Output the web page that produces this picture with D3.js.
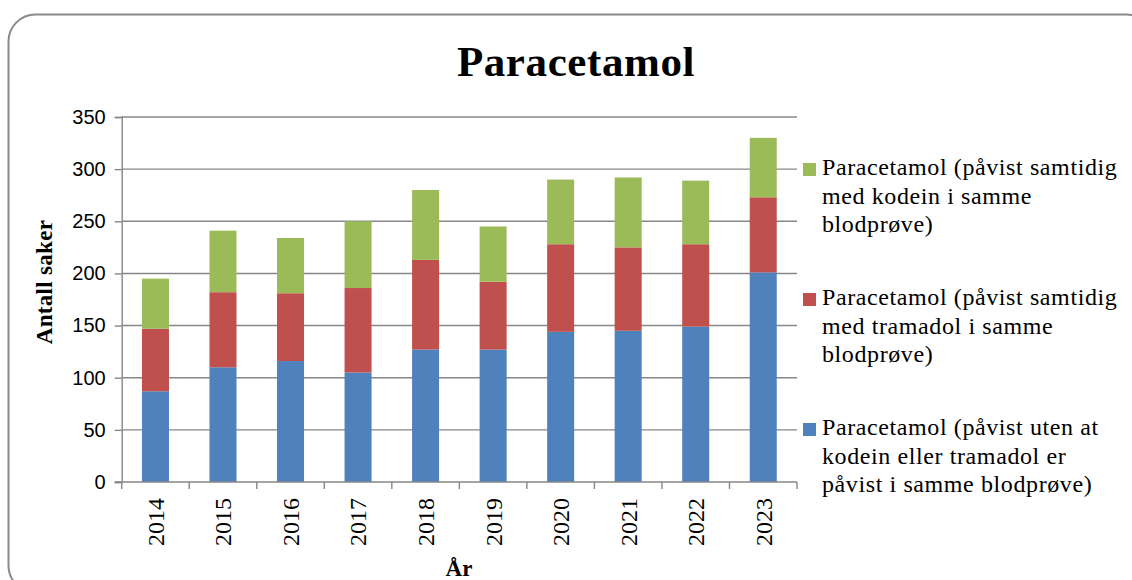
<!DOCTYPE html>
<html>
<head>
<meta charset="utf-8">
<script src="https://cdn.jsdelivr.net/npm/d3@7"></script>
<style>
  html, body { margin: 0; padding: 0; background: #fff; }
  svg { display: block; }
</style>
</head>
<body>
<svg width="1132" height="580"></svg>
<script>
(function(){
	'use strict';

	const years = ['2014', '2015', '2016', '2017', '2018', '2019', '2020', '2021', '2022', '2023'];
	const utenKodeinTramadol = [87, 110, 116, 105, 127, 127, 144, 145, 149, 201];
	const medTramadol = [60, 72, 65, 81, 86, 65, 84, 80, 79, 72];
	const medKodein = [48, 59, 53, 64, 67, 53, 62, 67, 61, 57];
	const yTicks = [0, 50, 100, 150, 200, 250, 300, 350];

	const seriesNames = [
		['Paracetamol (påvist uten at', 'kodein eller tramadol er', 'påvist i samme blodprøve)'],
		['Paracetamol (påvist samtidig', 'med tramadol i samme', 'blodprøve)'],
		['Paracetamol (påvist samtidig', 'med kodein i samme', 'blodprøve)']
	];
	const colors = ['#4F81BD', '#C0504D', '#9BBB59'];
	const keys = ['uten', 'tramadol', 'kodein'];

	const table = years.map((yr, i) => ({
		year: yr,
		uten: utenKodeinTramadol[i],
		tramadol: medTramadol[i],
		kodein: medKodein[i]
	}));

	const svg = d3.select('svg');
	const serif = "'Liberation Serif', 'Times New Roman', serif";
	const sans = "'Liberation Sans', Arial, sans-serif";
	const gridColor = '#878787';

	// outer frame
	svg.append('rect')
		.attr('x', 8.5)
		.attr('y', 14.5)
		.attr('width', 1145)
		.attr('height', 578)
		.attr('rx', 27)
		.attr('fill', 'none')
		.attr('stroke', '#8a8a8a')
		.attr('stroke-width', 2);

	const left = 121.7, right = 797, top = 117, bottom = 482;

	const x = d3.scaleBand()
		.domain(years)
		.range([left, right])
		.paddingInner(0.6)
		.paddingOuter(0.3);

	const y = d3.scaleLinear()
		.domain([0, 350])
		.range([bottom, top]);

	// gridlines
	svg.append('g')
		.selectAll('line')
		.data(yTicks.filter(d => d > 0))
		.join('line')
			.attr('x1', left)
			.attr('x2', right)
			.attr('y1', d => y(d))
			.attr('y2', d => y(d))
			.attr('stroke', gridColor)
			.attr('stroke-width', 1.4);

	// bars
	const stack = d3.stack().keys(keys)(table);
	svg.append('g')
		.selectAll('g')
		.data(stack)
		.join('g')
			.attr('fill', (d, i) => colors[i])
		.selectAll('rect')
		.data(d => d)
		.join('rect')
			.attr('x', d => x(d.data.year))
			.attr('width', x.bandwidth())
			.attr('y', d => y(d[1]))
			.attr('height', d => y(d[0]) - y(d[1]));

	// y axis
	const yAxis = svg.append('g')
		.attr('transform', `translate(${left},0)`)
		.call(d3.axisLeft(y).tickValues(yTicks).tickSize(7).tickPadding(9));
	yAxis.select('.domain').attr('stroke', gridColor).attr('stroke-width', 1.4);
	yAxis.selectAll('.tick line').attr('stroke', gridColor).attr('stroke-width', 1.4);
	yAxis.selectAll('.tick text')
		.attr('font-family', sans)
		.attr('font-size', 20)
		.attr('fill', '#000');

	// x axis
	const xAxisLine = svg.append('g');
	xAxisLine.append('line')
		.attr('x1', left - 7).attr('x2', right)
		.attr('y1', bottom).attr('y2', bottom)
		.attr('stroke', gridColor).attr('stroke-width', 1.4);
	const step = x.step();
	xAxisLine.selectAll('line.tk')
		.data(d3.range(years.length + 1))
		.join('line')
			.attr('class', 'tk')
			.attr('x1', i => x(years[0]) - x.paddingOuter() * step + i * step)
			.attr('x2', i => x(years[0]) - x.paddingOuter() * step + i * step)
			.attr('y1', bottom)
			.attr('y2', bottom + 7)
			.attr('stroke', gridColor)
			.attr('stroke-width', 1.4);

	svg.append('g')
		.selectAll('text')
		.data(years)
		.join('text')
			.attr('transform', d => `translate(${x(d) + x.bandwidth() / 2},498) rotate(-90)`)
			.attr('text-anchor', 'end')
			.attr('dy', '0.35em')
			.attr('font-family', serif)
			.attr('font-size', 24)
			.text(d => d);

	// titles
	svg.append('text')
		.attr('x', 576)
		.attr('y', 76)
		.attr('text-anchor', 'middle')
		.attr('font-family', serif)
		.attr('font-weight', 'bold')
		.attr('font-size', 43)
		.attr('letter-spacing', 0.6)
		.text('Paracetamol');

	svg.append('text')
		.attr('transform', 'translate(52,282) rotate(-90)')
		.attr('text-anchor', 'middle')
		.attr('font-family', serif)
		.attr('font-weight', 'bold')
		.attr('font-size', 23)
		.attr('letter-spacing', 0.3)
		.text('Antall saker');

	svg.append('text')
		.attr('x', 459)
		.attr('y', 576)
		.attr('text-anchor', 'middle')
		.attr('font-family', serif)
		.attr('font-weight', 'bold')
		.attr('font-size', 23)
		.text('År');

	// legend (top to bottom: kodein, tramadol, uten)
	const legendTops = [435, 305, 175];
	const legend = svg.append('g');
	seriesNames.forEach((lines, i) => {
		const g = legend.append('g');
		g.append('rect')
			.attr('x', 803)
			.attr('y', legendTops[i] - 12)
			.attr('width', 13)
			.attr('height', 13)
			.attr('fill', colors[i]);
		g.append('text')
			.attr('font-family', serif)
			.attr('font-size', 24)
			.attr('letter-spacing', 0.6)
			.selectAll('tspan')
			.data(lines)
			.join('tspan')
				.attr('x', 822)
				.attr('y', (d, j) => legendTops[i] + j * 28.5)
				.text(d => d);
	});
})();
</script>
</body>
</html>
